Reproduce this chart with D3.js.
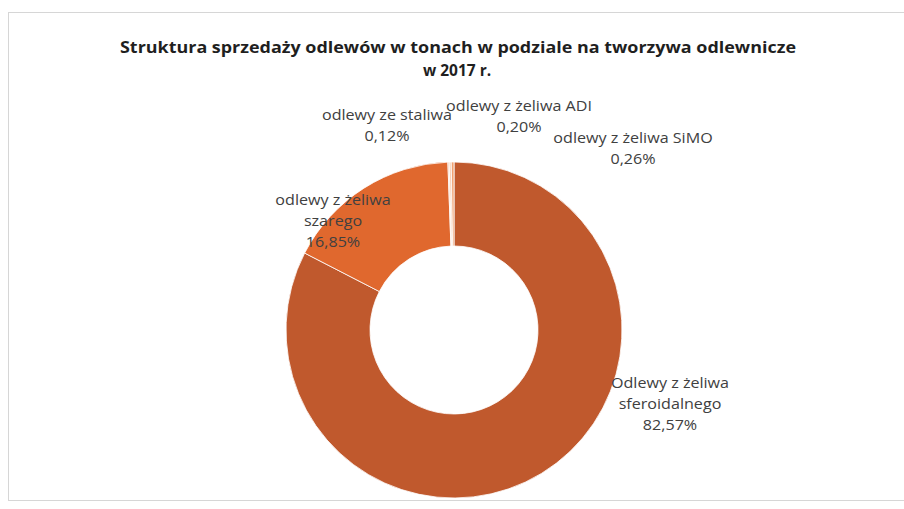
<!DOCTYPE html>
<html>
<head>
<meta charset="utf-8">
<script src="https://cdn.jsdelivr.net/npm/d3@7"></script>
<style>
html,body{margin:0;padding:0;background:#fff;}
svg{display:block;}
</style>
</head>
<body>
<svg id="chart" width="904" height="509"></svg>
<script>
const titleLines = ["Struktura sprzedaży odlewów w tonach w podziale na tworzywa odlewnicze", "w 2017 r."];
const categories = ["Odlewy z żeliwa sferoidalnego", "odlewy z żeliwa szarego", "odlewy ze staliwa", "odlewy z żeliwa ADI", "odlewy z żeliwa SiMO"];
const values = [82.57, 16.85, 0.12, 0.20, 0.26];
const valueLabels = ["82,57%", "16,85%", "0,12%", "0,20%", "0,26%"];
const labelLines = [
  ["Odlewy z żeliwa", "sferoidalnego", "82,57%"],
  ["odlewy z żeliwa", "szarego", "16,85%"],
  ["odlewy ze staliwa", "0,12%"],
  ["odlewy z żeliwa ADI", "0,20%"],
  ["odlewy z żeliwa SiMO", "0,26%"]
];
const colors = ["#C0592D", "#E0682E", "#F3B08A", "#F7CDB2", "#F0A070"];

const svg = d3.select("#chart");
const cx = 454, cy = 330, rOuter = 168, rInner = 84;

// chart frame
svg.append("rect").attr("x", 8.5).attr("y", 12.5).attr("width", 900).attr("height", 488)
  .attr("fill", "#fff").attr("stroke", "#d6d6d6").attr("stroke-width", 1);

// title
const title = svg.append("g").attr("font-family", "'Open Sans', 'Liberation Sans', sans-serif")
  .attr("font-weight", "bold").attr("fill", "#1f1f1f").attr("text-anchor", "middle");
title.append("text").attr("x", 458).attr("y", 53).attr("font-size", 15.5)
  .attr("textLength", 676).attr("lengthAdjust", "spacingAndGlyphs").text(titleLines[0]);
title.append("text").attr("x", 457).attr("y", 76).attr("font-size", 15.5).text(titleLines[1]);

// donut
const pie = d3.pie().sort(null).value(d => d).startAngle(0).endAngle(2 * Math.PI);
const arc = d3.arc().innerRadius(rInner).outerRadius(rOuter);
const g = svg.append("g").attr("transform", `translate(${cx},${cy})`);
g.selectAll("path").data(pie(values)).join("path")
  .attr("d", arc)
  .attr("fill", (d, i) => colors[i])
  .attr("stroke", "#fff").attr("stroke-width", 0.8);

// labels
const labelPos = [
  {x: 670, y: 388},
  {x: 333, y: 205},
  {x: 387, y: 120},
  {x: 519, y: 111},
  {x: 633, y: 143}
];
const lineH = 21;
const stretch = 1.15;
const lg = svg.append("g").attr("font-family", "'Open Sans', 'Liberation Sans', sans-serif")
  .attr("font-size", 14).attr("fill", "#404040").attr("text-anchor", "middle");
labelLines.forEach((lines, i) => {
  lines.forEach((ln, j) => {
    const t = lg.append("text").attr("x", labelPos[i].x).attr("y", labelPos[i].y + j * lineH).text(ln);
    const w = t.node().getComputedTextLength();
    t.attr("textLength", w * stretch).attr("lengthAdjust", "spacingAndGlyphs");
  });
});
</script>
</body>
</html>
